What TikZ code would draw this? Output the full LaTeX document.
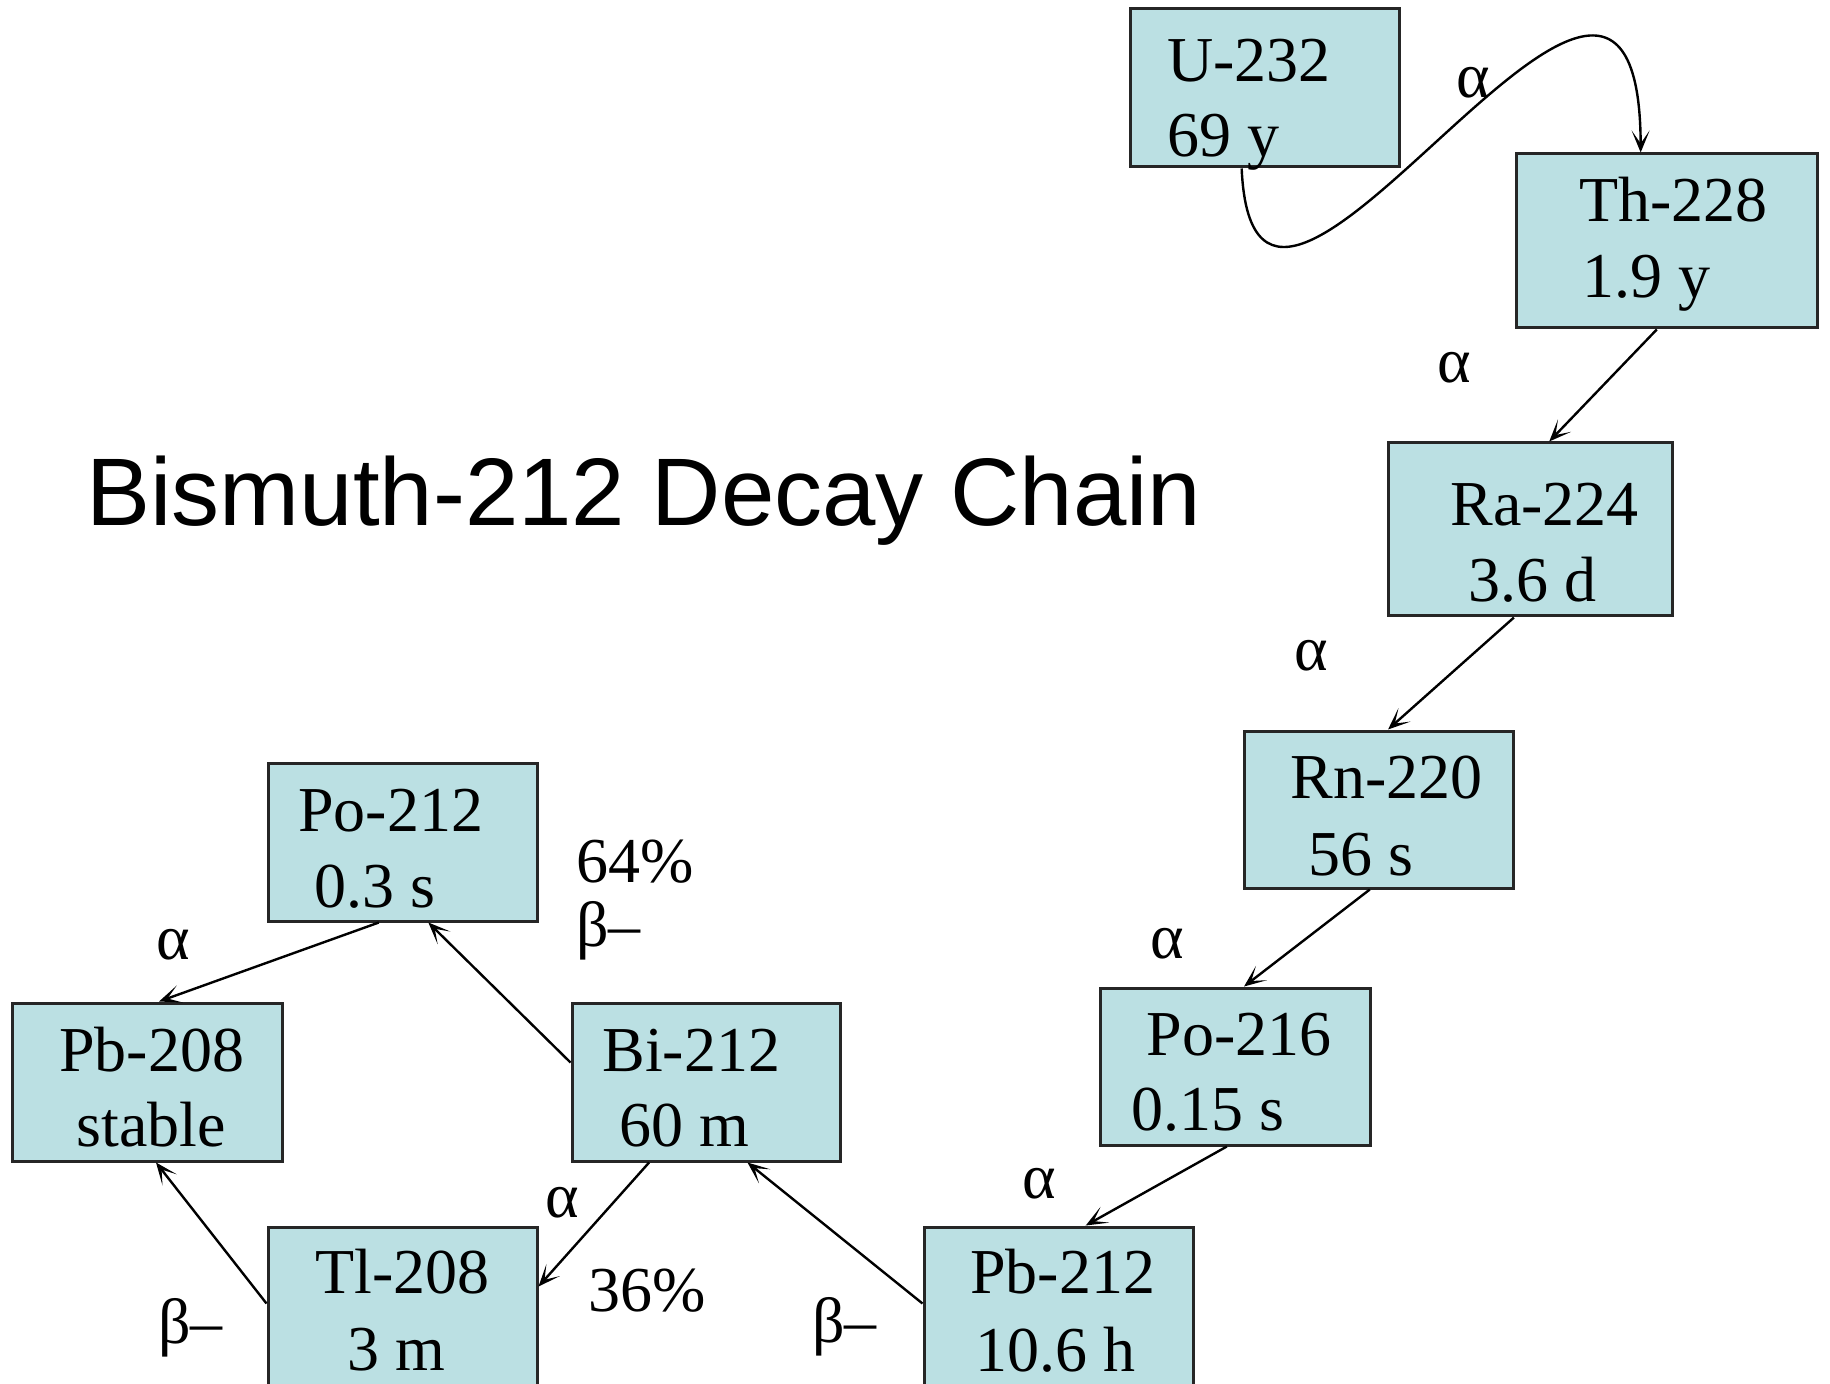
\documentclass[tikz,border=0pt]{standalone}
\usepackage{fontspec}
\setmainfont{Liberation Serif}
\newfontfamily\titlefont{Liberation Sans}
\usetikzlibrary{arrows.meta,calc,fit}
\definecolor{boxfill}{HTML}{BBE0E3}
\begin{document}
\begin{tikzpicture}[x=0.5pt,y=-0.5pt,
  isobox/.style={draw=black!85, line width=1.5pt, fill=boxfill, inner sep=0pt},
  lbl/.style={font=\fontsize{32}{38}\selectfont, inner sep=0pt, anchor=base west},
  conn/.style={line width=1.2pt, -{Stealth[length=11pt,width=9pt,inset=6.5pt]}}]
\useasboundingbox[fill=white] (0,0) rectangle (1830,1384);

% boxes
\node[isobox, fit={(1130,9) (1399,167)}] (U) {};
\node[isobox, fit={(1516,154) (1817,328)}] (Th) {};
\node[isobox, fit={(1388,443) (1672,616)}] (Ra) {};
\node[isobox, fit={(1244,731) (1513,888)}] (Rn) {};
\node[isobox, fit={(1100,988) (1370,1145)}] (PoA) {};
\node[isobox, fit={(924,1227) (1193,1388)}] (PbA) {};
\node[isobox, fit={(572,1003) (840,1161)}] (Bi) {};
\node[isobox, fit={(268,763) (537,921)}] (PoB) {};
\node[isobox, fit={(12,1003) (282,1161)}] (PbB) {};
\node[isobox, fit={(268,1227) (537,1388)}] (Tl) {};

% box texts
\node[lbl] (Ua) at (1167,82) {U-232};
\node[lbl] (Ub) at (1167,157) {69 y};
\node[lbl] (Tha) at (1579,222) {Th-228};
\node[lbl] (Thb) at (1582,298) {1.9 y};
\node[lbl] (Raa) at (1450,526) {Ra-224};
\node[lbl] (Rab) at (1468,602) {3.6 d};
\node[lbl] (Rna) at (1290,798) {Rn-220};
\node[lbl] (Rnb) at (1308,875) {56 s};
\node[lbl] (PoAa) at (1146,1055) {Po-216};
\node[lbl] (PoAb) at (1131,1130) {0.15 s};
\node[lbl] (PbAa) at (970,1293) {Pb-212};
\node[lbl] (PbAb) at (975,1371) {10.6 h};
\node[lbl] (Bia) at (602,1071) {Bi-212};
\node[lbl] (Bib) at (619,1146) {60 m};
\node[lbl] (PoBa) at (298,831) {Po-212};
\node[lbl] (PoBb) at (314,907) {0.3 s};
\node[lbl] (PbBa) at (59,1071) {Pb-208};
\node[lbl] (PbBb) at (76,1146) {stable};
\node[lbl] (Tla) at (315,1293) {Tl-208};
\node[lbl] (Tlb) at (347,1370) {3 m};

% title
\node[font=\titlefont\fontsize{48}{56}\selectfont, anchor=base west, inner sep=0pt] (title) at (86,526) {Bismuth-212 Decay Chain};

% decay labels
\node[lbl] (a1) at (1456,98) {α};
\node[lbl] (a2) at (1437,383) {α};
\node[lbl] (a3) at (1294,671) {α};
\node[lbl] (a4) at (1150,958) {α};
\node[lbl] (a5) at (1022,1198) {α};
\node[lbl] (a6) at (156,959) {α};
\node[lbl] (p64) at (576,882) {64\%};
\node[lbl] (b1) at (576,946) {β–};
\node[lbl] (a7) at (545,1217) {α};
\node[lbl] (p36) at (588,1311) {36\%};
\node[lbl] (b2) at (158,1343) {β–};
\node[lbl] (b3) at (812,1342) {β–};

% connectors
\draw[conn] ($(U.south west)!0.416!(U.south east)$) .. controls (1255,470) and (1640,-220) .. ($(Th.north west)!0.415!(Th.north east)$);
\draw[conn] ($(Th.south west)!0.468!(Th.south east)$) -- ($(Ra.north west)!0.567!(Ra.north east)$);
\draw[conn] ($(Ra.south west)!0.444!(Ra.south east)$) -- ($(Rn.north west)!0.535!(Rn.north east)$);
\draw[conn] ($(Rn.south west)!0.468!(Rn.south east)$) -- ($(PoA.north west)!0.533!(PoA.north east)$);
\draw[conn] ($(PoA.south west)!0.47!(PoA.south east)$) -- ($(PbA.north west)!0.6!(PbA.north east)$);
\draw[conn] ($(PbA.north west)+(0,78)$) -- ($(Bi.south west)!0.653!(Bi.south east)$);
\draw[conn] ($(Bi.north west)+(0,61)$) -- ($(PoB.south west)!0.595!(PoB.south east)$);
\draw[conn] ($(PoB.south west)!0.413!(PoB.south east)$) -- ($(PbB.north west)!0.544!(PbB.north east)$);
\draw[conn] ($(Bi.south west)!0.29!(Bi.south east)$) -- ($(Tl.north east)+(0,61)$);
\draw[conn] ($(Tl.north west)+(0,78)$) -- ($(PbB.south west)!0.533!(PbB.south east)$);
\end{tikzpicture}
\end{document}
